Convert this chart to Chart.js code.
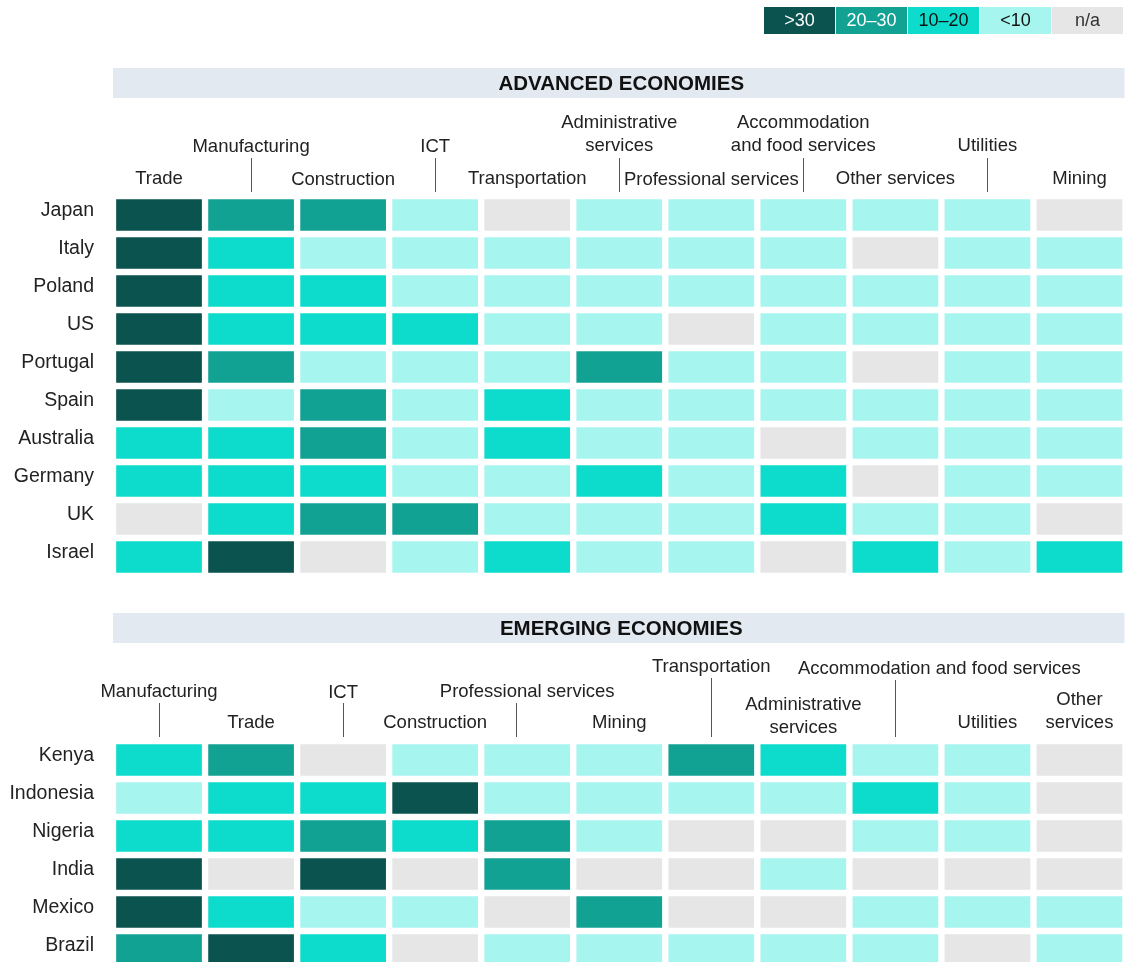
<!DOCTYPE html>
<html>
<head>
<meta charset="utf-8">
<title>Sector heatmap</title>
<script src="https://cdn.jsdelivr.net/npm/chart.js@4.4.1/dist/chart.umd.min.js"></script>
<style>
  body { margin: 0; background: #fff; overflow: hidden; font-family: "Liberation Sans", Arial, sans-serif; }
  #legend { position: absolute; top: 7px; left: 764px; display: flex; z-index: 2; }
  #legend div { width: 71px; height: 27px; line-height: 27px; text-align: center; font-size: 18px; margin-right: 1px; }
  #advWrap { position: absolute; left: 0; top: 0; }
  #emWrap { position: absolute; left: 0; top: 600px; }
</style>
</head>
<body>
<div id="legend"></div>
<div id="advWrap"><canvas id="advChart" width="1129" height="610"></canvas></div>
<div id="emWrap"><canvas id="emChart" width="1129" height="403"></canvas></div>
<script>
// buckets, lowest first; codes in the value tables index into this
const bins = ['n/a', '<10', '10–20', '20–30', '>30'];
const binColors = ['#e6e6e6', '#a6f5ef', '#0ddccc', '#12a294', '#0b534e'];
const binText = ['#333', '#111', '#111', '#fff', '#fff'];

const advancedSectors = ['Trade', 'Manufacturing', 'Construction', 'ICT', 'Transportation',
  'Administrative services', 'Professional services', 'Accommodation and food services',
  'Other services', 'Utilities', 'Mining'];
const advancedCountries = ['Japan', 'Italy', 'Poland', 'US', 'Portugal', 'Spain',
  'Australia', 'Germany', 'UK', 'Israel'];
const advancedValues = [
  [4, 3, 3, 1, 0, 1, 1, 1, 1, 1, 0],
  [4, 2, 1, 1, 1, 1, 1, 1, 0, 1, 1],
  [4, 2, 2, 1, 1, 1, 1, 1, 1, 1, 1],
  [4, 2, 2, 2, 1, 1, 0, 1, 1, 1, 1],
  [4, 3, 1, 1, 1, 3, 1, 1, 0, 1, 1],
  [4, 1, 3, 1, 2, 1, 1, 1, 1, 1, 1],
  [2, 2, 3, 1, 2, 1, 1, 0, 1, 1, 1],
  [2, 2, 2, 1, 1, 2, 1, 2, 0, 1, 1],
  [0, 2, 3, 3, 1, 1, 1, 2, 1, 1, 0],
  [2, 4, 0, 1, 2, 1, 1, 0, 2, 1, 2]
];

const emergingSectors = ['Manufacturing', 'Trade', 'ICT', 'Construction', 'Professional services',
  'Mining', 'Transportation', 'Administrative services', 'Accommodation and food services',
  'Utilities', 'Other services'];
const emergingCountries = ['Kenya', 'Indonesia', 'Nigeria', 'India', 'Mexico', 'Brazil'];
const emergingValues = [
  [2, 3, 0, 1, 1, 1, 3, 2, 1, 1, 0],
  [1, 2, 2, 4, 1, 1, 1, 1, 2, 1, 0],
  [2, 2, 3, 2, 3, 1, 0, 0, 1, 1, 0],
  [4, 0, 4, 0, 3, 0, 0, 1, 0, 0, 0],
  [4, 2, 1, 1, 0, 3, 0, 0, 1, 1, 1],
  [3, 4, 2, 0, 1, 1, 1, 1, 1, 0, 1]
];

// where each column label sits, relative to the top of the grid
// y = centre of first text line, split = break at first space, tick = top of the pointer line
const advancedLabelLayout = [
  { y: -17 }, { y: -49, tick: -38 }, { y: -16 }, { y: -49, tick: -38 }, { y: -17 },
  { y: -73, split: true, tick: -38 }, { y: -16 }, { y: -73, split: true, tick: -38 },
  { y: -17 }, { y: -50, tick: -38 }, { y: -17 }
];
const emergingLabelLayout = [
  { y: -49, tick: -38 }, { y: -18 }, { y: -48, tick: -38 }, { y: -18 },
  { y: -49, tick: -38, tickDx: -11 }, { y: -18 }, { y: -74, tick: -63 },
  { y: -36, split: true }, { y: -72, dx: 44, tick: -61 }, { y: -18 }, { y: -41, split: true }
];

const FONT = '"Liberation Sans", Arial, sans-serif';
const TEXT = '#222';

// legend
const legendEl = document.getElementById('legend');
[4, 3, 2, 1, 0].forEach(b => {
  const d = document.createElement('div');
  d.textContent = bins[b];
  d.style.background = binColors[b];
  d.style.color = binText[b];
  legendEl.appendChild(d);
});

const headerPlugin = {
  id: 'headerPlugin',
  afterDraw(chart, args, opts) {
    const ctx = chart.ctx;
    const area = chart.chartArea;
    const x = chart.scales.x;
    ctx.save();
    // grey band with panel title
    ctx.fillStyle = '#e2e9f0';
    ctx.fillRect(area.left, area.top - 128, area.right - area.left - 1, 30);
    ctx.fillStyle = '#111';
    ctx.font = 'bold 20.5px ' + FONT;
    ctx.textAlign = 'center';
    ctx.textBaseline = 'middle';
    ctx.fillText(opts.title, (area.left + area.right) / 2 + 2, area.top - 112);

    // column labels, staggered
    ctx.font = '18.5px ' + FONT;
    ctx.fillStyle = TEXT;
    opts.sectors.forEach((name, i) => {
      const lay = opts.layout[i];
      const cx = x.getPixelForValue(i + 0.5);
      let lines = [name];
      if (lay.split) {
        const k = name.indexOf(' ');
        lines = [name.slice(0, k), name.slice(k + 1)];
      }
      lines.forEach((t, j) => {
        ctx.fillText(t, cx + (lay.dx || 0), area.top + lay.y + j * 23);
      });
      if (lay.tick !== undefined) {
        const tx = Math.round(cx + (lay.tickDx || 0)) + 0.5;
        ctx.strokeStyle = '#555';
        ctx.lineWidth = 1;
        ctx.beginPath();
        ctx.moveTo(tx, area.top + lay.tick);
        ctx.lineTo(tx, area.top - 4);
        ctx.stroke();
      }
    });
    ctx.restore();
  }
};

function makeHeatmap(canvasId, title, sectors, countries, values, layout, padTop, padBottom) {
  const datasets = sectors.map((s, i) => ({
    label: s,
    data: countries.map(() => [i, i + 1]),
    backgroundColor: countries.map((c, r) => binColors[values[r][i]]),
    borderColor: '#fff',
    borderWidth: 3.5,
    borderSkipped: false,
    grouped: false,
    barPercentage: 1,
    categoryPercentage: 1
  }));
  return new Chart(document.getElementById(canvasId).getContext('2d'), {
    type: 'bar',
    data: { labels: countries, datasets: datasets },
    options: {
      indexAxis: 'y',
      responsive: false,
      animation: false,
      // bottom padding kept larger than the tick labels' own padding so the grid keeps its height
      layout: { padding: { top: padTop, bottom: padBottom, left: 0, right: 3.5 } },
      plugins: {
        legend: { display: false },
        tooltip: {
          callbacks: {
            label: (item) => item.dataset.label + ': ' + bins[values[item.dataIndex][item.datasetIndex]]
          }
        },
        headerPlugin: { title: title, sectors: sectors, layout: layout }
      },
      scales: {
        x: { type: 'linear', min: 0, max: sectors.length, display: false },
        y: {
          type: 'category',
          grid: { display: false, drawTicks: false },
          border: { display: false },
          ticks: { color: TEXT, padding: 19, labelOffset: -4, font: { size: 19.5, family: FONT } },
          afterFit: (scale) => { scale.width = 113; }
        }
      }
    },
    plugins: [headerPlugin]
  });
}

makeHeatmap('advChart', 'ADVANCED ECONOMIES', advancedSectors, advancedCountries,
  advancedValues, advancedLabelLayout, 196, 34);
makeHeatmap('emChart', 'EMERGING ECONOMIES', emergingSectors, emergingCountries,
  emergingValues, emergingLabelLayout, 141, 34);
</script>
</body>
</html>
